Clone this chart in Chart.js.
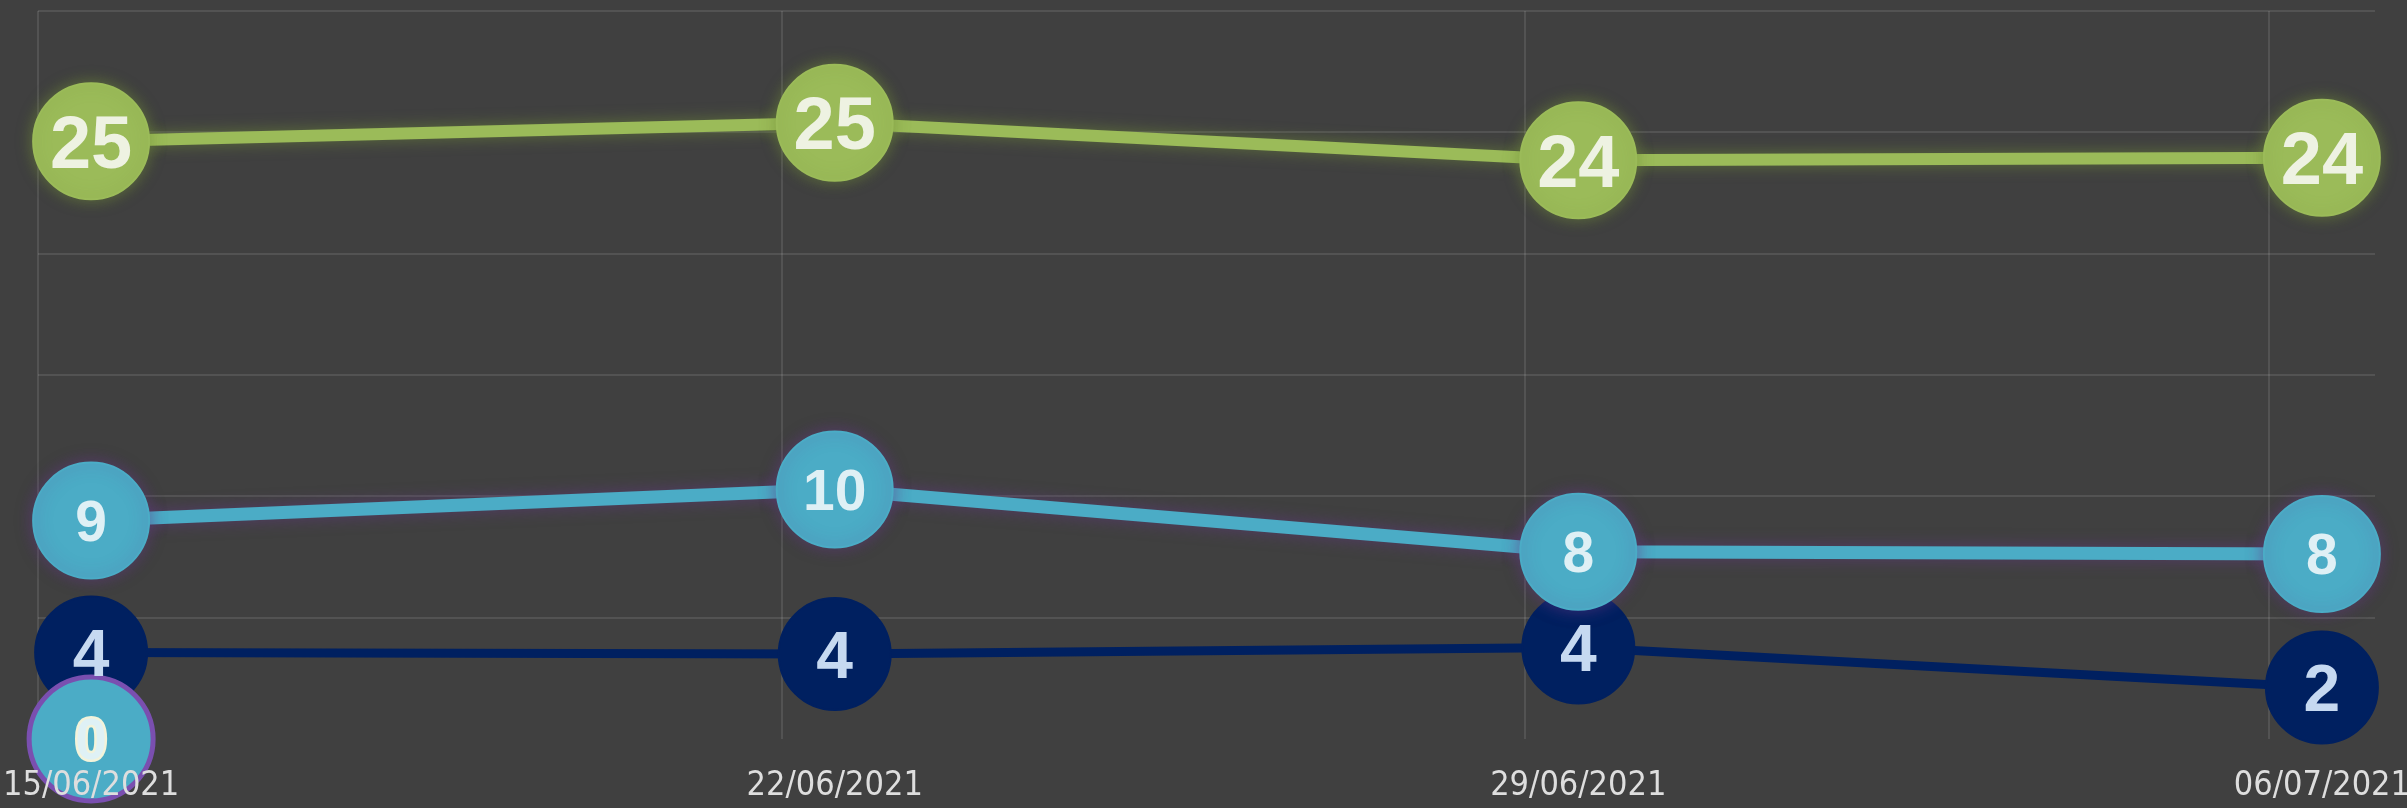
<!DOCTYPE html>
<html>
<head>
<meta charset="utf-8">
<script src="https://cdn.jsdelivr.net/npm/chart.js@4.4.1/dist/chart.umd.min.js"></script>
<style>
  html, body { margin: 0; padding: 0; background: #404040; overflow: hidden; }
  canvas { display: block; }
</style>
</head>
<body>
<canvas id="chart" width="2407" height="808"></canvas>
<script>
// day offsets from 15/06/2021, and the tick labels shown under them
const dayOffsets = [0, 7, 14, 21];
const dateLabels = ['15/06/2021', '22/06/2021', '29/06/2021', '06/07/2021'];

// series values (labels on the points show them rounded)
const greenValues = [24.63, 25.39, 23.85, 23.95];
const aquaValues = [9.0, 10.28, 7.72, 7.62];
const navyValues = [3.56, 3.5, 3.77, 2.12];
const zeroValues = [0, null, null, null];

function toPoints(values) {
    return values.map((v, i) => ({ x: dayOffsets[i], y: v }))
}

// draws the rounded value in the middle of each point
const valueLabels = {
    id: 'valueLabels',
    afterDatasetsDraw(chart) {
        const ctx = chart.ctx
        chart.data.datasets.forEach((ds, di) => {
            const meta = chart.getDatasetMeta(di)
            meta.data.forEach((el, i) => {
                const v = ds.data[i].y
                if (v === null || v === undefined) return
                const size = ds.labelSize
                ctx.save()
                ctx.font = `bold ${size}px "Liberation Sans", Arial, sans-serif`
                ctx.textAlign = 'center'
                ctx.textBaseline = 'alphabetic'
                const ty = el.y + size * 0.716 / 2
                if (ds.labelStroke) {
                    ctx.lineWidth = 5
                    ctx.strokeStyle = ds.labelStroke
                    ctx.lineJoin = 'round'
                    ctx.strokeText(String(Math.round(v)), el.x, ty)
                }
                ctx.fillStyle = ds.labelColor
                ctx.fillText(String(Math.round(v)), el.x, ty)
                ctx.restore()
            })
        })
    }
};

// soft glow under some series
const glow = {
    id: 'glow',
    beforeDatasetDraw(chart, args) {
        const ds = chart.data.datasets[args.index]
        chart.ctx.save()
        if (ds.glowColor) {
            chart.ctx.shadowColor = ds.glowColor
            chart.ctx.shadowBlur = ds.glowBlur
        }
    },
    afterDatasetDraw(chart) {
        chart.ctx.restore()
    }
};

const data = {
    datasets: [{
        data: toPoints(zeroValues),
        borderColor: '#8064a2',
        backgroundColor: '#4bacc6',
        pointBackgroundColor: '#4bacc6',
        pointBorderColor: '#7a4fb0',
        pointBorderWidth: 5,
        pointRadius: 62,
        borderWidth: 0,
        labelSize: 57,
        labelColor: '#dff1f5',
        labelStroke: '#f3f3da',
        clip: false
    }, {
        data: toPoints(aquaValues),
        borderColor: '#4bacc6',
        backgroundColor: '#4bacc6',
        pointBackgroundColor: '#4bacc6',
        pointBorderColor: '#4bacc6',
        pointBorderWidth: 2,
        pointRadius: 58,
        borderWidth: 13,
        glowColor: 'rgba(100, 55, 135, 0.6)',
        glowBlur: 16,
        labelSize: 57,
        labelColor: '#dff0f5',
        clip: false
    }, {
        data: toPoints(navyValues),
        borderColor: '#002060',
        backgroundColor: '#002060',
        pointBackgroundColor: '#002060',
        pointBorderColor: '#002060',
        pointBorderWidth: 2,
        pointRadius: 56,
        borderWidth: 9,
        labelSize: 66,
        labelColor: '#c6d9f1',
        clip: false
    }, {
        data: toPoints(greenValues),
        borderColor: '#9bbb59',
        backgroundColor: '#9bbb59',
        pointBackgroundColor: '#9bbb59',
        pointBorderColor: '#9bbb59',
        pointBorderWidth: 2,
        pointRadius: 58,
        borderWidth: 12,
        glowColor: 'rgba(115, 145, 55, 0.6)',
        glowBlur: 15,
        labelSize: 74,
        labelColor: '#eef2e2',
        clip: false
    }]
};

const gridColor = 'rgba(255, 255, 255, 0.1)';

const config = {
    type: 'line',
    data: data,
    options: {
        responsive: false,
        animation: false,
        layout: { autoPadding: false, padding: { left: 38, right: 32, top: 11, bottom: 0 } },
        plugins: {
            legend: { display: false },
            tooltip: { enabled: false }
        },
        scales: {
            x: {
                type: 'linear',
                min: -0.5,
                max: 21.5,
                afterBuildTicks: axis => {
                    let t = []
                    dayOffsets.forEach(d => { t.push({ value: d - 0.5 }); t.push({ value: d }) })
                    axis.ticks = t
                },
                afterFit: axis => {
                    // labels may run to the canvas edge, like the original
                    axis.height = 69
                    axis.paddingLeft = 0
                    axis.paddingRight = 0
                },
                grid: {
                    drawTicks: false,
                    lineWidth: 2,
                    color: c => (c.tick && c.tick.value % 1 !== 0) ? gridColor : 'transparent'
                },
                border: { display: false },
                ticks: {
                    z: 1,
                    autoSkip: false,
                    maxRotation: 0,
                    padding: 27,
                    color: '#dedede',
                    font: { family: '"DejaVu Sans Condensed", sans-serif', size: 34 },
                    callback: v => {
                        const i = dayOffsets.indexOf(v)
                        return i >= 0 ? dateLabels[i] : ''
                    }
                }
            },
            y: {
                min: 0,
                max: 30,
                ticks: { display: false, stepSize: 5 },
                grid: {
                    drawTicks: false,
                    lineWidth: 2,
                    color: c => (c.tick && c.tick.value === 0) ? 'transparent' : gridColor
                },
                border: { display: false }
            }
        }
    },
    plugins: [glow, valueLabels]
};

let ctx = document.getElementById('chart').getContext('2d')

new Chart(ctx, config)
</script>
</body>
</html>
